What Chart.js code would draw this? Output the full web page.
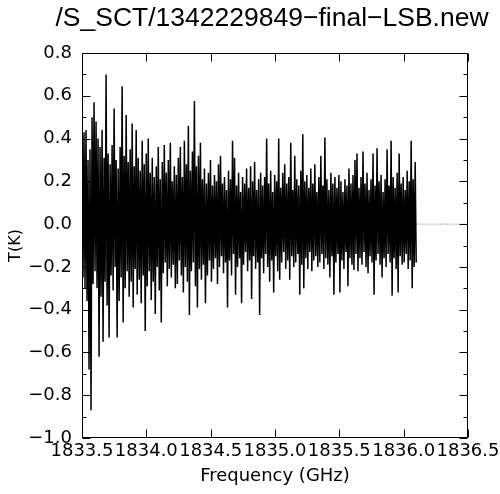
<!DOCTYPE html>
<html><head><meta charset="utf-8">
<script src="https://cdn.jsdelivr.net/npm/chart.js@4.4.0/dist/chart.umd.min.js"></script>
<style>html,body{margin:0;padding:0;background:#fff;}#wrap{width:500px;height:494px;}</style>
</head><body><div id="wrap"><canvas id="c" width="500" height="494"></canvas></div>
<script>
const titleText = "/S_SCT/1342229849\u2212final\u2212LSB.new";
const xTitle = "Frequency (GHz)";
const yTitle = "T(K)";
const freqStart = 1833.5;     // GHz, first channel
const channelWidth = 0.0078;  // GHz per channel
// brightness temperature per channel (K)
const temps = [
 0.23,-0.25, 0.43,-0.30, 0.44,-0.36, 0.30,-0.68, 0.35,-0.87,
 0.50,-0.28, 0.57,-0.22, 0.48,-0.30, 0.40,-0.62, 0.36,-0.34,
 0.44,-0.55, 0.31,-0.27, 0.70,-0.38, 0.33,-0.53, 0.28,-0.24,
 0.37,-0.31, 0.54,-0.20, 0.30,-0.53, 0.26,-0.36, 0.36,-0.25,
 0.645,-0.46, 0.32,-0.30, 0.51,-0.22, 0.29,-0.34, 0.35,-0.27,
 0.47,-0.39, 0.27,-0.21, 0.44,-0.33, 0.31,-0.26, 0.25,-0.37,
 0.39,-0.24, 0.28,-0.50, 0.33,-0.29, 0.40,-0.22, 0.24,-0.355,
 0.31,-0.27, 0.22,-0.42, 0.27,-0.20, 0.36,-0.31, 0.21,-0.46,
 0.29,-0.23, 0.37,-0.18, 0.24,-0.29, 0.30,-0.21, 0.38,-0.25,
 0.20,-0.19, 0.27,-0.30, 0.23,-0.28, 0.31,-0.17, 0.36,-0.24,
 0.22,-0.32, 0.39,-0.20, 0.28,-0.27, 0.46,-0.425, 0.25,-0.22,
 0.34,-0.18, 0.576,-0.29, 0.27,-0.39, 0.32,-0.21, 0.38,-0.26,
 0.21,-0.19, 0.26,-0.37, 0.19,-0.24, 0.24,-0.17, 0.30,-0.27,
 0.18,-0.21, 0.23,-0.16, 0.20,-0.28, 0.28,-0.20, 0.32,-0.15,
 0.19,-0.23, 0.22,-0.18, 0.16,-0.39, 0.25,-0.17, 0.21,-0.24,
 0.39,-0.14, 0.31,-0.33, 0.18,-0.20, 0.24,-0.16, 0.15,-0.37,
 0.22,-0.19, 0.19,-0.13, 0.26,-0.22, 0.17,-0.17, 0.27,-0.35,
 0.20,-0.15, 0.29,-0.21, 0.16,-0.18, 0.21,-0.425, 0.24,-0.16,
 0.18,-0.23, 0.22,-0.14, 0.40,-0.20, 0.19,-0.27, 0.25,-0.17,
 0.15,-0.32, 0.23,-0.15, 0.20,-0.22, 0.40,-0.26, 0.17,-0.18,
 0.24,-0.13, 0.28,-0.21, 0.19,-0.17, 0.22,-0.26, 0.38,-0.15,
 0.16,-0.20, 0.32,-0.18, 0.21,-0.14, 0.18,-0.33, 0.25,-0.19,
 0.42,-0.30, 0.20,-0.16, 0.23,-0.21, 0.17,-0.13, 0.26,-0.22,
 0.19,-0.17, 0.28,-0.15, 0.15,-0.20, 0.22,-0.18, 0.32,-0.14,
 0.18,-0.21, 0.405,-0.16, 0.21,-0.19, 0.16,-0.25, 0.24,-0.15,
 0.19,-0.33, 0.22,-0.18, 0.17,-0.14, 0.23,-0.32, 0.20,-0.17,
 0.15,-0.21, 0.21,-0.13, 0.18,-0.29, 0.26,-0.16, 0.19,-0.19,
 0.23,-0.215, 0.30,-0.14, 0.33,-0.22, 0.17,-0.16, 0.22,-0.19,
 0.34,-0.13, 0.19,-0.20, 0.24,-0.23, 0.16,-0.15, 0.21,-0.18,
 0.33,-0.33, 0.18,-0.17, 0.355,-0.14, 0.20,-0.19, 0.23,-0.25,
 0.15,-0.16, 0.21,-0.20, 0.35,-0.14, 0.18,-0.18, 0.39,-0.335,
 0.22,-0.16, 0.17,-0.21, 0.24,-0.32, 0.33,-0.15, 0.19,-0.19,
 0.22,-0.18, 0.16,-0.14, 0.25,-0.21, 0.20,-0.17, 0.39,-0.30,
 0.21,-0.20, 0.29,-0.18
];
// dotted zero baseline beyond the band edge
const baselineFreqs = [1836.1, 1836.5];
const baselineTemps = [0, 0];
const xRange = [1833.5, 1836.5];
const xStep = 0.5;
const yRange = [-1.0, 0.8];
const yMinorStep = 0.1;

const spectrum = temps.map((t, i) => ({x: freqStart + i * channelWidth, y: t}));
const baseline = baselineFreqs.map((f, i) => ({x: f, y: baselineTemps[i]}));

const fmt = (v) => { const s = Math.abs(v).toFixed(1); return v < -1e-9 ? '\u2212' + s : s; };

const framePlugin = {
  id: 'frame',
  afterDatasetsDraw(chart) {
    const {ctx, chartArea: a, scales: {x, y}} = chart;
    ctx.save();
    ctx.strokeStyle = '#000';
    ctx.lineWidth = 1;
    ctx.beginPath();
    const L = Math.round(a.left) + 0.5, R = Math.round(a.right) - 0.5;
    const T = Math.round(a.top) + 0.5, B = Math.round(a.bottom) - 0.5;
    ctx.rect(L, T, R - L, B - T);
    y.ticks.forEach(t => {
      const py = Math.round(y.getPixelForValue(t.value)) + 0.5;
      const major = Math.round(t.value * 10) % 2 === 0;
      const len = major ? 8 : 4;
      ctx.moveTo(L, py); ctx.lineTo(L + len, py);
      ctx.moveTo(R, py); ctx.lineTo(R - len, py);
    });
    x.ticks.forEach(t => {
      const px = Math.round(x.getPixelForValue(t.value)) + 0.5;
      ctx.moveTo(px, B); ctx.lineTo(px, B - 8);
      ctx.moveTo(px, T); ctx.lineTo(px, T + 8);
    });
    ctx.stroke();
    // title, centred over the plot box
    ctx.fillStyle = '#000';
    ctx.font = 'normal 26.5px "Liberation Sans"';
    ctx.textAlign = 'center';
    ctx.textBaseline = 'alphabetic';
    ctx.fillText(titleText, (a.left + a.right) / 2 - 3, 26);
    ctx.restore();
  }
};

new Chart(document.getElementById('c'), {
  type: 'line',
  data: {
    datasets: [
      {data: spectrum, borderColor: '#000', borderWidth: 1.5, pointRadius: 0, tension: 0, fill: false},
      {data: baseline, borderColor: '#555', borderWidth: 1, borderDash: [1, 2], pointRadius: 0, fill: false}
    ]
  },
  options: {
    responsive: false,
    animation: false,
    devicePixelRatio: 1,
    events: [],
    parsing: false,
    layout: {padding: {left: 0, right: 32, top: 53, bottom: 0}},
    plugins: {
      legend: {display: false},
      tooltip: {enabled: false},
      title: {display: false}
    },
    scales: {
      x: {
        type: 'linear', min: xRange[0], max: xRange[1],
        grid: {display: false, drawTicks: false}, border: {display: false},
        ticks: {stepSize: xStep, autoSkip: false, maxRotation: 0, padding: 3, color: '#000',
                font: {family: 'DejaVu Sans', size: 18}, callback: (v) => fmt(v)},
        title: {display: true, text: xTitle, color: '#000', font: {family: 'DejaVu Sans', size: 18},
                padding: {top: 0, bottom: 6.5}},
        afterFit(s) { s.height = 56; s.paddingLeft = 0; s.paddingRight = 0; }
      },
      y: {
        type: 'linear', min: yRange[0], max: yRange[1],
        grid: {display: false, drawTicks: false}, border: {display: false},
        ticks: {stepSize: yMinorStep, autoSkip: false, padding: 10, color: '#000',
                font: {family: 'DejaVu Sans', size: 18},
                callback: (v) => (Math.round(v * 10) % 2 === 0 ? fmt(v) : '')},
        title: {display: true, text: yTitle, color: '#000', font: {family: 'DejaVu Sans', size: 16},
                padding: {top: 5.9, bottom: 0}},
        afterFit(s) { s.width = 82; s.paddingTop = 0; s.paddingBottom = 0; }
      }
    }
  },
  plugins: [framePlugin]
});
</script></body></html>
